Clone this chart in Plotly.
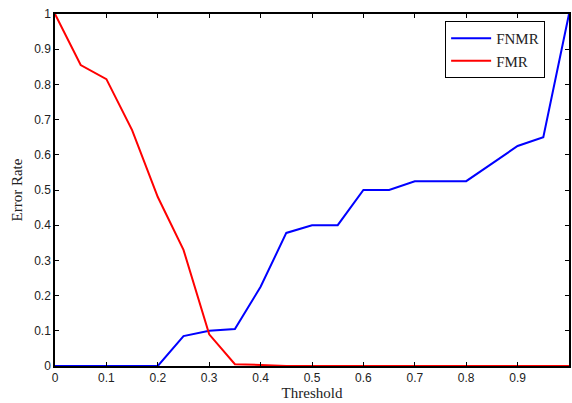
import plotly.graph_objects as go

threshold = [0, 0.05, 0.1, 0.15, 0.2, 0.25, 0.3, 0.35, 0.4, 0.45, 0.5,
             0.55, 0.6, 0.65, 0.7, 0.75, 0.8, 0.85, 0.9, 0.95, 1.0]
fnmr = [0, 0, 0, 0, 0, 0.085, 0.10, 0.105, 0.225, 0.378, 0.40,
        0.40, 0.50, 0.50, 0.525, 0.525, 0.525, 0.575, 0.625, 0.65, 1.0]
fmr = [1.0, 0.855, 0.815, 0.67, 0.48, 0.33, 0.09, 0.005, 0.003, 0, 0,
       0, 0, 0, 0, 0, 0, 0, 0, 0, 0]

tick_vals = [0, 0.1, 0.2, 0.3, 0.4, 0.5, 0.6, 0.7, 0.8, 0.9, 1]
tick_text = ["0", "0.1", "0.2", "0.3", "0.4", "0.5", "0.6", "0.7", "0.8", "0.9", "1"]

fig = go.Figure()
fig.add_trace(go.Scatter(x=threshold, y=fnmr, mode="lines", name="FNMR",
                         line=dict(color="#0000ff", width=2)))
fig.add_trace(go.Scatter(x=threshold, y=fmr, mode="lines", name="FMR",
                         line=dict(color="#ff0000", width=2)))

axis_common = dict(
    showgrid=False, zeroline=False, showline=True, linecolor="black",
    linewidth=1.5, mirror="ticks", ticks="inside", ticklen=4,
    tickcolor="black", tickwidth=1,
    tickfont=dict(family="Liberation Sans, Arial, sans-serif", size=12, color="#222"),
)

fig.update_layout(
    width=572, height=403,
    margin=dict(l=55, r=1, t=14, b=37),
    paper_bgcolor="white", plot_bgcolor="white",
    xaxis=dict(range=[0, 1], tickvals=tick_vals, ticktext=tick_text,
               title=dict(text="Threshold", standoff=2,
                          font=dict(family="Liberation Serif, Times New Roman, serif",
                                    size=15, color="#222")),
               **axis_common),
    yaxis=dict(range=[0, 1], tickvals=tick_vals, ticktext=tick_text,
               title=dict(text="Error Rate", standoff=8,
                          font=dict(family="Liberation Serif, Times New Roman, serif",
                                    size=15, color="#222")),
               **axis_common),
    legend=dict(x=0.759, y=0.98, xanchor="left", yanchor="top",
                bgcolor="white", bordercolor="black", borderwidth=1,
                font=dict(family="Liberation Serif, Times New Roman, serif",
                          size=15, color="#222"),
                tracegroupgap=0, itemwidth=40),
    showlegend=True,
)

fig.write_html("out.html")
